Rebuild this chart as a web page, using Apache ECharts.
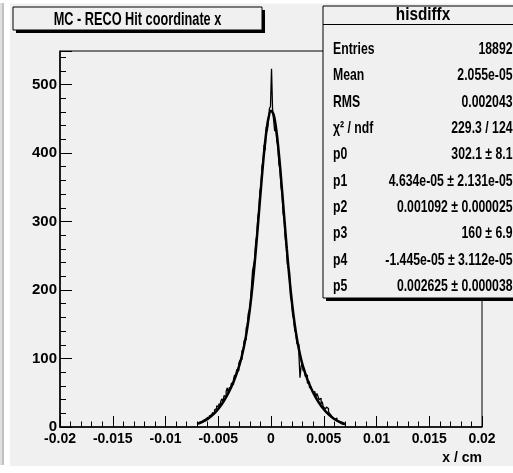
<!DOCTYPE html>
<html>
<head>
<meta charset="utf-8">
<script src="https://cdn.jsdelivr.net/npm/echarts@6/dist/echarts.min.js"></script>
<style>
  html, body { margin: 0; padding: 0; background: #fff; }
  #chart { width: 513px; height: 473px; }
</style>
</head>
<body>
<div id="chart"></div>
<script>
// histogram: 0.0001 cm bins, first bin centre at -0.007
const histStart = -0.007;
const binWidth = 0.0001;
const histCounts = [
  5, 3, 7, 5, 8, 6, 10, 8, 12, 9,
  14, 12, 16, 18, 15, 21, 19, 25, 27, 31,
  29, 34, 31, 38, 41, 37, 46, 44, 52, 57,
  50, 58, 55, 64, 62, 70, 76, 73, 84, 82,
  93, 97, 99, 112, 109, 126, 128, 145, 148, 166,
  170, 183, 205, 228, 236, 244, 270, 279, 306, 316,
  344, 352, 381, 388, 412, 404, 438, 432, 447, 465,
  468,
  523, 463, 448, 432, 440, 418, 410, 384, 377, 351,
  340, 312, 302, 276, 264, 238, 232, 228, 190, 184,
  164, 158, 141, 138, 122, 120, 104, 72, 88, 94,
  82, 85, 74, 76, 64, 66, 57, 60, 55, 56,
  49, 52, 44, 49, 45, 40, 42, 34, 37, 30,
  31, 26, 29, 27, 22, 23, 18, 19, 14, 15,
  11, 13, 9, 10, 7, 8, 5, 6, 4, 3
];

// fitted curve
const fitX = [-0.007, -0.0065, -0.006, -0.0055, -0.005, -0.0045, -0.004, -0.0035, -0.003, -0.00275,
  -0.0025, -0.00225, -0.002, -0.00175, -0.0015, -0.00125, -0.001, -0.00075, -0.0005, -0.00025,
  0, 0.00025, 0.0005, 0.00075, 0.001, 0.00125, 0.0015, 0.00175, 0.002, 0.00225, 0.0025, 0.00275,
  0.003, 0.0035, 0.004, 0.0045, 0.005, 0.0055, 0.006, 0.0065, 0.007];
const fitY = [4.6, 7.6, 11.9, 18.0, 26.4, 37.2, 50.8, 67.8, 90.0, 104.3,
  122.1, 144.4, 172.4, 206.7, 247.2, 292.5, 340.0, 385.4, 423.9, 450.6,
  461.8, 456.1, 434.1, 398.9, 354.8, 307.1, 260.0, 217.1, 180.1, 149.7, 125.3, 106.0,
  90.5, 67.3, 50.1, 36.5, 25.8, 17.6, 11.6, 7.4, 4.5];

const xTickLabels = ['-0.02', '-0.015', '-0.01', '-0.005', '0', '0.005', '0.01', '0.015', '0.02'];
const yTickLabels = ['0', '100', '200', '300', '400', '500'];

const titleText = 'MC - RECO Hit coordinate x';
const statsName = 'hisdiffx';
const statLabels = ['Entries', 'Mean', 'RMS', 'χ² / ndf', 'p0', 'p1', 'p2', 'p3', 'p4', 'p5'];
const statValues = ['18892', '2.055e-05', '0.002043', '229.3 / 124', '302.1 ± 8.1',
  '4.634e-05 ± 2.131e-05', '0.001092 ± 0.000025', '160 ± 6.9',
  '-1.445e-05 ± 3.112e-05', '0.002625 ± 0.000038'];

const FONT = "'Liberation Sans', Arial, sans-serif";
const BG = '#f0f0f0';

const histData = histCounts.map((c, i) => [histStart + i * binWidth, c]);
const fitData = fitX.map((x, i) => [x, fitY[i]]);

const chart = echarts.init(document.getElementById('chart'));

// condensed bold text (ROOT squeezes its helvetica)
function label(text, x, y, size, sx, align) {
    return {
        type: 'text', z: 102, x: x, y: y, scaleX: sx,
        style: {text: text, font: 'bold ' + size + 'px ' + FONT, fill: '#000', align: align, verticalAlign: 'middle'}
    };
}

const statsGraphics = [];
statLabels.forEach((lab, i) => {
    const y = 49.5 + i * 26.3;
    statsGraphics.push(label(lab, 333, y, 17, 0.72, 'left'));
    statsGraphics.push(label(statValues[i], 512.5, y, 17, 0.72, 'right'));
});

const option = {
    animation: false,
    backgroundColor: BG,
    grid: {
        left: 60, right: 31, top: 51, bottom: 46,
        show: true, borderColor: '#000', borderWidth: 1, backgroundColor: 'transparent'
    },
    xAxis: {
        type: 'value',
        min: -0.02, max: 0.02, interval: 0.005,
        splitLine: {show: false},
        axisLine: {onZero: false, lineStyle: {color: '#000', width: 1.5}},
        axisTick: {inside: true, length: 11, lineStyle: {color: '#000', width: 1}},
        minorTick: {show: true, splitNumber: 5, length: 5.5, lineStyle: {color: '#000', width: 1}},
        axisLabel: {
            margin: 5, color: '#000', fontFamily: FONT, fontWeight: 'bold', fontSize: 14,
            formatter: (v, i) => xTickLabels[i]
        },
        name: 'x / cm', nameLocation: 'end', nameGap: 0,
        nameTextStyle: {
            color: '#000', fontFamily: FONT, fontWeight: 'bold', fontSize: 14,
            align: 'right', verticalAlign: 'top', padding: [24, 0, 0, 0]
        }
    },
    yAxis: {
        type: 'value',
        min: 0, max: 549, interval: 100,
        splitLine: {show: false},
        axisLine: {onZero: false, lineStyle: {color: '#000', width: 1.5}},
        axisTick: {inside: true, length: 12, lineStyle: {color: '#000', width: 1}},
        minorTick: {show: true, splitNumber: 5, length: 6, lineStyle: {color: '#000', width: 1}},
        axisLabel: {
            margin: 3, color: '#000', fontFamily: FONT, fontWeight: 'bold', fontSize: 15,
            showMaxLabel: false,
            formatter: (v, i) => yTickLabels[i] !== undefined ? yTickLabels[i] : ''
        }
    },
    series: [
        {
            type: 'line', data: histData, step: 'middle', showSymbol: false,
            lineStyle: {color: '#000', width: 1.3}, z: 3
        },
        {
            type: 'line', data: fitData, smooth: 0.3, showSymbol: false,
            lineStyle: {color: '#000', width: 2.5}, z: 4
        }
    ],
    graphic: [
        // window edges
        {type: 'rect', z: 1, shape: {x: 0, y: 0, width: 10, height: 473}, style: {fill: '#fff'}},
        {type: 'rect', z: 1, shape: {x: 0, y: 0, width: 513, height: 3.5}, style: {fill: '#fff'}},
        {type: 'rect', z: 1, shape: {x: 0, y: 466, width: 513, height: 7}, style: {fill: '#fff'}},
        {type: 'rect', z: 2, shape: {x: 0, y: 3, width: 1.7, height: 462}, style: {fill: '#e2e2e2'}},
        {type: 'rect', z: 2, shape: {x: 1.7, y: 3, width: 2.3, height: 462}, style: {fill: '#c2c2c2'}},
        // title box
        {type: 'rect', z: 100, shape: {x: 16, y: 10, width: 249, height: 23}, style: {fill: '#000'}},
        {type: 'rect', z: 101, shape: {x: 13, y: 7, width: 249, height: 23}, style: {fill: BG, stroke: '#000', lineWidth: 1}},
        label(titleText, 137.5, 19.5, 19, 0.67, 'center'),
        // stats box
        {type: 'rect', z: 100, shape: {x: 326, y: 9, width: 200, height: 292}, style: {fill: '#000'}},
        {type: 'rect', z: 101, shape: {x: 323, y: 6, width: 200, height: 292}, style: {fill: BG, stroke: '#000', lineWidth: 1}},
        {type: 'line', z: 102, shape: {x1: 323, y1: 24.5, x2: 513, y2: 24.5}, style: {stroke: '#000', lineWidth: 1}},
        label(statsName, 423, 15.5, 18, 0.85, 'center')
    ].concat(statsGraphics)
};

chart.setOption(option);
</script>
</body>
</html>
